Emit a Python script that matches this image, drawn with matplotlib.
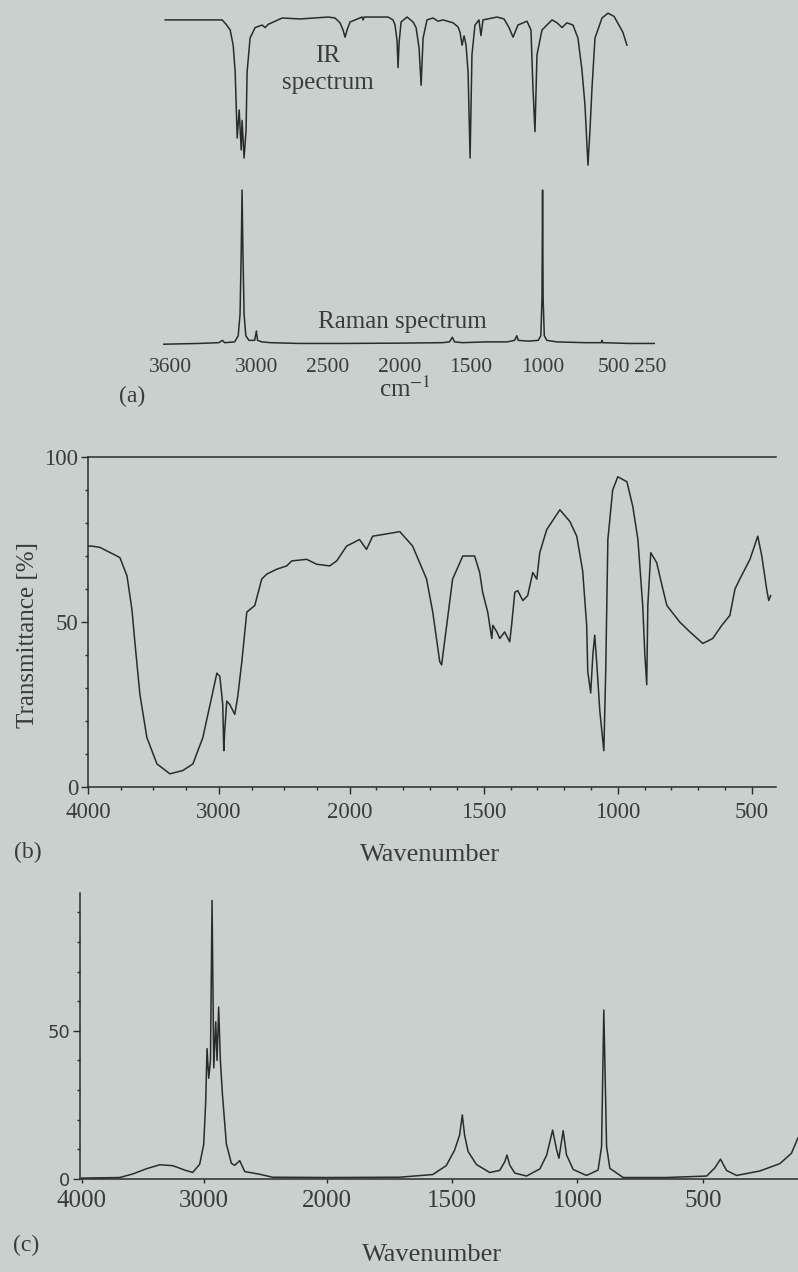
import numpy as np
import matplotlib.pyplot as plt
from matplotlib.ticker import MultipleLocator, FixedLocator

# ---- (a) benzene IR / Raman, linear cm-1 axis ----
a_ticks = [3600, 3000, 2500, 2000, 1500, 1000, 500, 250]

ir_a_wn = [3635, 3391, 3237, 3209, 3181, 3160, 3146, 3132, 3118, 3104, 3098, 3084,
           3070, 3063, 3042, 3007, 2958, 2937, 2916, 2818, 2693, 2497, 2449, 2414,
           2393, 2379, 2365, 2344, 2260, 2253, 2246, 2079, 2044, 2030, 2016, 2009,
           2002, 1988, 1946, 1904, 1883, 1862, 1848, 1834, 1807, 1765, 1730, 1695,
           1625, 1590, 1576, 1562, 1548, 1534, 1520, 1506, 1493, 1472, 1444, 1430,
           1416, 1318, 1269, 1234, 1206, 1172, 1109, 1081, 1067, 1053, 1039, 1004,
           934, 899, 864, 830, 788, 753, 725, 704, 683, 669, 655, 634, 585, 543,
           501, 467, 439, 411]
ir_a_t = [98.8, 98.8, 98.8, 96, 92.5, 83, 66, 25, 42.5, 17.5, 36, 12.5,
          30, 66, 87.5, 94, 95.6, 94, 96, 100, 99.4, 100.6, 100, 97,
          92.5, 88, 92.5, 97.5, 100.6, 98.8, 100.6, 100.6, 98.8, 95.6, 86, 69,
          84, 97.5, 100.6, 97.5, 94, 81, 58, 87.5, 98.8, 100, 98, 98.8,
          97, 94.4, 91, 83, 88.8, 83, 66, 12.5, 77, 95.6, 98.8, 89,
          98.8, 100.6, 99.4, 94, 88, 95.6, 98, 92.5, 56, 29, 77, 92.5,
          98.8, 97, 94, 97, 95.6, 87.5, 67.5, 45.6, 8, 30, 56, 87.5, 100, 103,
          101, 95.6, 91, 83]

raman_a_wn = [3650, 3400, 3260, 3235, 3220, 3150, 3125, 3112, 3104, 3098, 3092, 3084,
              3072, 3050, 3010, 2998, 2990, 2960, 2900, 2700, 2400, 2000, 1700, 1650,
              1630, 1615, 1560, 1400, 1250, 1195, 1180, 1170, 1100, 1030, 1012, 1004,
              1000, 996, 988, 970, 900, 700, 590, 585, 580, 400, 215]
raman_a_int = [0.5, 1, 1.5, 3, 1.5, 2, 6, 20, 60, 100, 60, 20,
               6, 3, 3, 9, 3, 2, 1.5, 1, 1, 1.2, 1.5, 2,
               5, 2, 1.5, 2, 2, 3, 6, 3, 2.5, 3, 6, 30,
               100, 30, 6, 3, 2, 1.5, 1.5, 3, 1.5, 1, 1]

# ---- (b) IR transmittance ----
b_ticks = [4000, 3000, 2000, 1500, 1000, 500]
ir_b_wn = [4000, 3970, 3908, 3779, 3756, 3702, 3664, 3641, 3603, 3550, 3473, 3374,
           3275, 3198, 3122, 3053, 3015, 2992, 2970, 2962, 2955, 2939, 2916, 2878,
           2855, 2824, 2786, 2725, 2672, 2634, 2557, 2481, 2443, 2328, 2252, 2153,
           2099, 2023, 1963, 1937, 1914, 1840, 1813, 1765, 1713, 1690, 1664, 1657,
           1638, 1616, 1578, 1534, 1515, 1504, 1485, 1470, 1466, 1451, 1440, 1422,
           1403, 1396, 1384, 1373, 1354, 1336, 1317, 1302, 1291, 1265, 1216, 1179,
           1153, 1131, 1116, 1112, 1101, 1093, 1086, 1078, 1067, 1052, 1045, 1037,
           1019, 1000, 966, 944, 925, 907, 899, 892, 888, 877, 855, 832, 817, 769,
           731, 683, 646, 612, 582, 563, 545, 507, 478, 463, 444, 437, 430]
ir_b_t = [73, 73, 72.6, 70, 69.5, 64, 53.7, 43.6, 28, 15, 7, 4,
          5, 7, 15, 27.5, 34.5, 33.5, 25, 11, 17, 26, 25, 22,
          27.5, 38, 53, 55, 63, 64.5, 66, 67, 68.5, 69, 67.5, 67,
          68.5, 73, 75, 72, 76, 77, 77.4, 73, 63, 53, 38, 37,
          49, 63, 70, 70, 65, 59, 53, 45, 49, 47, 45, 47,
          44, 49, 59, 59.5, 56.5, 58, 65, 63, 71, 78, 84, 80.5,
          76, 65.5, 49, 35, 28.5, 40, 46, 37, 23, 11, 35, 75,
          90, 94, 92.5, 85, 75, 55, 40, 31, 55, 71, 68, 60, 55, 50,
          47, 43.5, 45, 49, 52, 60, 63, 69, 76, 70, 59.5, 56.5, 58]

# ---- (c) Raman intensity ----
c_ticks = [4000, 3000, 2000, 1500, 1000, 500]
raman_c_wn = [4000, 3690, 3584, 3469, 3363, 3257, 3159, 3094, 3037, 3004, 2988, 2977,
              2963, 2949, 2936, 2922, 2906, 2895, 2882, 2868, 2851, 2819, 2778, 2751,
              2710, 2669, 2547, 2441, 2000, 1709, 1577, 1523, 1490, 1470, 1459, 1450,
              1436, 1403, 1350, 1310, 1290, 1281, 1270, 1250, 1203, 1150, 1123, 1099,
              1083, 1074, 1057, 1044, 1017, 964, 918, 904, 895, 884, 871, 818,
              645, 485, 452, 430, 406, 366, 273, 193, 147, 121]
raman_c_int = [0.3, 0.5, 1.7, 3.5, 4.8, 4.5, 3, 2.2, 5, 11.7, 26, 44,
               34, 40, 94, 37.5, 53, 40, 58, 40, 28.5, 11.8, 5.3, 4.6,
               6.2, 2.5, 1.6, 0.6, 0.5, 0.6, 1.5, 4.5, 9.7, 14.8, 21.6, 14.8,
               9.3, 4.9, 2.2, 2.9, 5.8, 8.1, 4.7, 2, 1, 3.4, 8, 16.5,
               9.8, 7, 16.3, 8.2, 3.2, 1.2, 3, 10.9, 57, 11, 3.6, 0.5,
               0.5, 1, 3.8, 6.7, 2.9, 1.2, 2.7, 5.2, 8.7, 13.9]

W, H = 798, 1272
PAPER = '#c9d0cd'
INK = '#2a2c2c'
TXT = '#3a3c3c'

plt.rcParams['font.family'] = ['Liberation Serif', 'DejaVu Serif']
plt.rcParams['mathtext.fontset'] = 'stix'
plt.rcParams['axes.edgecolor'] = INK
plt.rcParams['xtick.color'] = INK
plt.rcParams['ytick.color'] = INK
plt.rcParams['xtick.labelcolor'] = TXT
plt.rcParams['ytick.labelcolor'] = TXT

K = 2.05  # region below 2000 cm-1 is stretched


def fwd(w):
    w = np.asarray(w, dtype=float)
    return np.where(w >= 2000, w, 2000 - K * (2000 - w))


def inv(p):
    p = np.asarray(p, dtype=float)
    return np.where(p >= 2000, p, 2000 - (2000 - p) / K)


def box(left, top, right, bottom):
    return [left / W, 1 - bottom / H, (right - left) / W, (bottom - top) / H]


fig = plt.figure(figsize=(W / 100, H / 100), dpi=100, facecolor=PAPER)


def ftext(x, y, s, **kw):
    kw.setdefault('color', TXT)
    fig.text(x / W, 1 - y / H, s, ha='center', va='center', **kw)


# (a)
ax = fig.add_axes(box(163, 5, 655, 345))
ax.set_facecolor('none')
ax.plot(ir_a_wn, 167 + 1.6 * np.array(ir_a_t), color=INK, lw=1.1)
ax.plot(raman_a_wn, 1.55 * np.array(raman_a_int), color=INK, lw=1.1)
ax.set_xlim(3650, 215)
ax.set_ylim(0, 340)
for s in ax.spines.values():
    s.set_visible(False)
ax.set_yticks([])
ax.set_xticks(a_ticks)
ax.tick_params(axis='x', length=0, pad=9, labelsize=15.5)
ftext(328, 56, 'IR', fontsize=18)
ftext(328, 83, 'spectrum', fontsize=18)
ftext(402, 322, 'Raman spectrum', fontsize=18)
ftext(405, 389, 'cm$^{-1}$', fontsize=18)
ftext(132, 396, '(a)', fontsize=17)

# (b)
ax = fig.add_axes(box(88, 457, 776, 787))
ax.set_facecolor('none')
ax.set_xscale('function', functions=(fwd, inv))
ax.plot(ir_b_wn, ir_b_t, color=INK, lw=1.1)
ax.set_xlim(4000, 410)
ax.set_ylim(0, 100)
ax.spines['right'].set_visible(False)
for s in ax.spines.values():
    s.set_linewidth(1.1)
ax.xaxis.set_major_locator(FixedLocator(b_ticks))
ax.xaxis.set_minor_locator(FixedLocator(list(range(3750, 2000, -250)) + list(range(1900, 400, -100))))
ax.set_xticklabels([str(t) for t in b_ticks])
ax.yaxis.set_major_locator(FixedLocator([0, 50, 100]))
ax.yaxis.set_minor_locator(MultipleLocator(10))
ax.tick_params(axis='both', which='major', length=5, width=1, labelsize=16.5)
ax.tick_params(axis='both', which='minor', length=2, width=1)
ax.tick_params(axis='y', pad=2)
ax.tick_params(axis='x', pad=6)
ftext(28, 635, 'Transmittance [%]', fontsize=18, rotation=90)
ftext(430, 855, 'Wavenumber', fontsize=19)
ftext(28, 852, '(b)', fontsize=17)

# (c)
ax = fig.add_axes(box(80, 893, 798, 1179))
ax.set_facecolor('none')
ax.set_xscale('function', functions=(fwd, inv))
ax.plot(raman_c_wn, raman_c_int, color=INK, lw=1.1)
ax.set_xlim(4015, 121)
ax.set_ylim(0, 96.5)
ax.spines['right'].set_visible(False)
ax.spines['top'].set_visible(False)
for s in ax.spines.values():
    s.set_linewidth(1.1)
ax.xaxis.set_major_locator(FixedLocator(c_ticks))
ax.set_xticklabels([str(t) for t in c_ticks])
ax.yaxis.set_major_locator(FixedLocator([0, 50]))
ax.yaxis.set_minor_locator(FixedLocator([10, 20, 30, 40, 60, 70, 80, 90]))
ax.tick_params(axis='x', length=3, width=1, labelsize=18, pad=5)
ax.tick_params(axis='y', which='major', length=5, width=1, pad=2)
ax.tick_params(axis='y', which='minor', length=2, width=1)
for lab in ax.get_yticklabels():
    lab.set_family(['DejaVu Sans'])
    lab.set_fontsize(13)
ftext(432, 1255, 'Wavenumber', fontsize=19)
ftext(26, 1245, '(c)', fontsize=17)

fig.savefig('out.png', dpi=100, facecolor=PAPER)
